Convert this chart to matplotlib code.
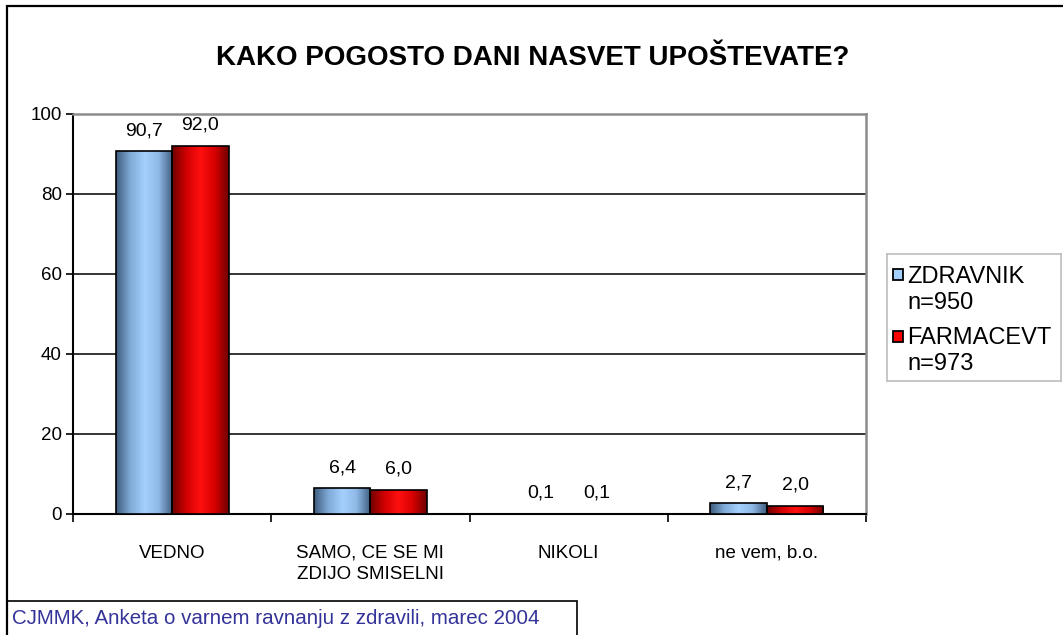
import numpy as np
import matplotlib
matplotlib.use("Agg")
from matplotlib import pyplot as plt
from matplotlib.patches import Rectangle
from matplotlib.colors import LinearSegmentedColormap

plt.rcParams['font.family'] = ['Liberation Sans', 'DejaVu Sans']

categories = ["VEDNO", "SAMO, CE SE MI\nZDIJO SMISELNI", "NIKOLI", "ne vem, b.o."]
zdravnik = [90.7, 6.4, 0.1, 2.7]
farmacevt = [92.0, 6.0, 0.1, 2.0]
series_labels = ["ZDRAVNIK\nn=950", "FARMACEVT\nn=973"]
title = "KAKO POGOSTO DANI NASVET UPOŠTEVATE?"
source = "CJMMK, Anketa o varnem ravnanju z zdravili, marec 2004"

W, H = 1063, 635
fig = plt.figure(figsize=(W / 100, H / 100), dpi=100)
ax = fig.add_axes([73 / W, 1 - 514 / H, (866 - 73) / W, (514 - 114) / H])

# gradients like the old excel bars: dark edges, light middle
blue_cm = LinearSegmentedColormap.from_list("b", ["#3e5c7e", "#7fa9d6", "#a4d0ff", "#8fb8e6", "#3e5c7e"])
red_cm = LinearSegmentedColormap.from_list("r", ["#6e0000", "#d00000", "#ff1010", "#d80000", "#6e0000"])
grad = np.linspace(0, 1, 256).reshape(1, -1)

x = np.arange(len(categories))
bw = 0.285
bars1 = ax.bar(x - bw / 2, zdravnik, bw, facecolor="none", edgecolor="black", linewidth=1.2, zorder=4)
bars2 = ax.bar(x + bw / 2, farmacevt, bw, facecolor="none", edgecolor="black", linewidth=1.2, zorder=4)

for bars, cm in [(bars1, blue_cm), (bars2, red_cm)]:
    for b in bars:
        bx, by = b.get_x(), b.get_y()
        im = ax.imshow(grad, cmap=cm, aspect="auto", zorder=3,
                       extent=[bx, bx + b.get_width(), by, by + b.get_height()])
        im.set_clip_path(b)

for bars, vals in [(bars1, zdravnik), (bars2, farmacevt)]:
    for b, v in zip(bars, vals):
        ax.text(b.get_x() + b.get_width() / 2, v + 3, f"{v:.1f}".replace(".", ","),
                ha="center", va="bottom", fontsize=14)

ax.set_xlim(-0.5, len(categories) - 0.5)
ax.set_ylim(0, 100)
ax.set_yticks([0, 20, 40, 60, 80, 100])
for yv in [20, 40, 60, 80]:
    ax.axhline(yv, color="black", linewidth=1.1, zorder=1)

ax.set_xticks(x)
ax.set_xticklabels(categories, fontsize=13.5, linespacing=1.35)
ax.set_xticks(np.arange(-0.5, len(categories)), minor=True)
ax.tick_params(axis="x", which="major", length=0, pad=22)
ax.tick_params(axis="x", which="minor", length=6, width=1.2, direction="out")
ax.tick_params(axis="y", length=5, width=1.2, direction="out", labelsize=13.5, pad=3)

for s in ["top", "right"]:
    ax.spines[s].set_color("#8c8c8c")
    ax.spines[s].set_linewidth(1.8)
for s in ["left", "bottom"]:
    ax.spines[s].set_color("black")
    ax.spines[s].set_linewidth(1.5)

fig.text(533 / W, 1 - 58 / H, title, ha="center", va="center", fontsize=20, fontweight="bold")

# legend
lh = 381 - 254
leg_ax = fig.add_axes([887 / W, 1 - 381 / H, (1061 - 887) / W, lh / H])
leg_ax.set_xlim(0, 1)
leg_ax.set_ylim(0, 1)
leg_ax.set_xticks([])
leg_ax.set_yticks([])
for s in leg_ax.spines.values():
    s.set_color("#bdbdbd")
    s.set_linewidth(1.2)
for i, (lab, col) in enumerate(zip(series_labels, ["#a4d0ff", "#ff0000"])):
    ytop = 277 + i * 61
    yc = 1 - (ytop - 254) / lh
    sq = 1 - (ytop - 2 - 254) / lh
    leg_ax.add_patch(Rectangle((0.034, sq - 5.5 / lh), 0.058, 11 / lh, facecolor=col,
                               edgecolor="black", linewidth=1.3))
    for j, line in enumerate(lab.split("\n")):
        leg_ax.text(0.115, yc - j * 26.5 / lh, line, ha="left", va="center", fontsize=17)

# outer frame and source box
fig.patches.append(Rectangle((7 / W, -0.1), 1.2, 1 - 6 / H + 0.1, transform=fig.transFigure,
                             fill=False, edgecolor="black", linewidth=1.6))
fig.patches.append(Rectangle((7 / W, -0.1), (577 - 7) / W, 1 - 601 / H + 0.1, transform=fig.transFigure,
                             fill=False, edgecolor="black", linewidth=1.2))
fig.text(12 / W, 1 - 618 / H, source, ha="left", va="center", fontsize=14.8, color="#333399")

fig.savefig("out.png", dpi=100)
